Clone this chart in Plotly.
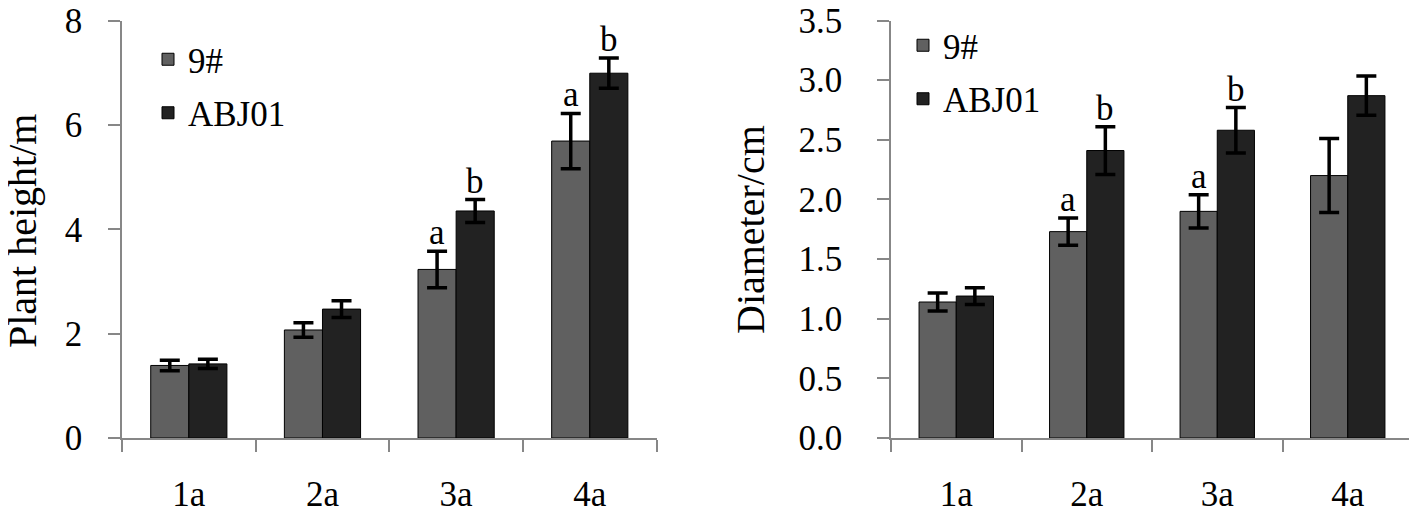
import plotly.graph_objects as go

# data
years = ["1a", "2a", "3a", "4a"]

height_9 = [1.39, 2.07, 3.23, 5.69]
height_9_err = [0.10, 0.14, 0.35, 0.53]
height_abj = [1.42, 2.47, 4.35, 6.99]
height_abj_err = [0.09, 0.16, 0.22, 0.29]
height_9_letters = ["", "", "a", "a"]
height_abj_letters = ["", "", "b", "b"]

diam_9 = [1.14, 1.73, 1.90, 2.20]
diam_9_err = [0.075, 0.115, 0.14, 0.31]
diam_abj = [1.19, 2.41, 2.58, 2.87]
diam_abj_err = [0.07, 0.20, 0.19, 0.165]
diam_9_letters = ["", "a", "a", ""]
diam_abj_letters = ["", "b", "b", ""]

GREY = "#606060"
DARK = "#222222"
AXIS = "#878787"
FONT = "Liberation Serif"
FS = 35
TFS = 40

W, H = 1417, 513
OFF = 8  # page body margin


def px(x):
    return (x - OFF) / W


def py(y):
    return (H - (y - OFF)) / H


def bar(name, x, y, err, color, xa, ya, legend):
    return go.Bar(
        name=name, x=x, y=y, legendgroup=name + legend,
        marker=dict(color=color, line=dict(color="black", width=1)),
        error_y=dict(type="data", array=err, color="black", thickness=3.5, width=10),
        xaxis=xa, yaxis=ya, legend=legend)


fig = go.Figure()
fig.add_trace(bar("9#", years, height_9, height_9_err, GREY, "x", "y", "legend"))
fig.add_trace(bar("ABJ01", years, height_abj, height_abj_err, DARK, "x", "y", "legend"))
fig.add_trace(bar("9#", years, diam_9, diam_9_err, GREY, "x2", "y2", "legend2"))
fig.add_trace(bar("ABJ01", years, diam_abj, diam_abj_err, DARK, "x2", "y2", "legend2"))

# significance letters above the error bars
annos = []
def letters(vals, errs, labs, xref, yref, shift):
    for cat, v, e, t in zip(years, vals, errs, labs):
        if t:
            annos.append(dict(x=cat, y=v + e, xref=xref, yref=yref, text=t,
                              showarrow=False, yanchor="bottom", xshift=shift, yshift=-3,
                              font=dict(family=FONT, size=FS, color="black")))

letters(height_9, height_9_err, height_9_letters, "x", "y", -19)
letters(height_abj, height_abj_err, height_abj_letters, "x", "y", 19)
letters(diam_9, diam_9_err, diam_9_letters, "x2", "y2", -18.5)
letters(diam_abj, diam_abj_err, diam_abj_letters, "x2", "y2", 18.5)

# axis titles
annos.append(dict(x=px(22), y=py(231), xref="paper", yref="paper", text="Plant height/m",
                  textangle=-90, showarrow=False, xanchor="center", yanchor="middle",
                  font=dict(family=FONT, size=TFS, color="black")))
annos.append(dict(x=px(750), y=py(230), xref="paper", yref="paper", text="Diameter/cm",
                  textangle=-90, showarrow=False, xanchor="center", yanchor="middle",
                  font=dict(family=FONT, size=TFS, color="black")))

ydom = [py(438), py(20.5)]
xcommon = dict(type="category", showline=True, linecolor=AXIS, linewidth=1.5,
               ticks="outside", ticklen=12, tickwidth=1.5, tickcolor=AXIS,
               tickson="boundaries", showgrid=False, zeroline=False, automargin=False,
               ticklabelstandoff=24, tickfont=dict(family=FONT, size=FS, color="black"))
ycommon = dict(showline=True, linecolor=AXIS, linewidth=1.5,
               ticks="outside", ticklen=12, tickwidth=1.5, tickcolor=AXIS,
               showgrid=False, zeroline=False, domain=ydom, automargin=False,
               ticklabeloverflow="allow",
               tickfont=dict(family=FONT, size=FS, color="black"))

legend_common = dict(font=dict(family=FONT, size=FS, color="black"), bgcolor="rgba(0,0,0,0)",
                     xanchor="left", yanchor="top", tracegroupgap=5, itemwidth=30)

fig.update_layout(
    template="none",
    width=W, height=H,
    font=dict(family=FONT, size=FS, color="black"),
    margin=dict(l=0, r=0, t=0, b=0),
    paper_bgcolor="white", plot_bgcolor="white",
    barmode="group", bargap=0.43, bargroupgap=0,
    xaxis=dict(xcommon, domain=[px(122), px(656.6)], anchor="y"),
    yaxis=dict(ycommon, range=[0, 8], tickvals=[0, 2, 4, 6, 8], ticklabelstandoff=19, anchor="x"),
    xaxis2=dict(xcommon, domain=[px(891), px(1413)], anchor="y2"),
    yaxis2=dict(ycommon, range=[0, 3.5], tickvals=[0, 0.5, 1, 1.5, 2, 2.5, 3, 3.5],
                tickformat=".1f", ticklabelstandoff=28, anchor="x2"),
    legend=dict(legend_common, x=px(148), y=py(30)),
    legend2=dict(legend_common, x=px(903), y=py(16)),
    annotations=annos,
    showlegend=True,
)

fig.write_html("out.html")
